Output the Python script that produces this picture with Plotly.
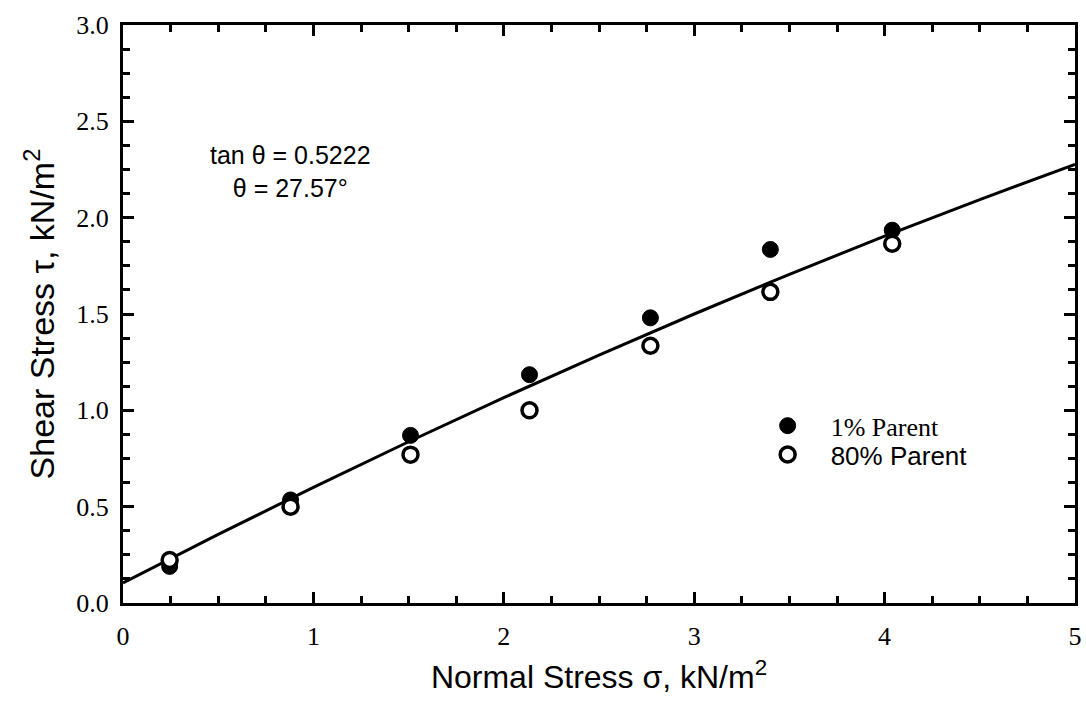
import plotly.graph_objects as go

# Data
sigma = [0.245, 0.88, 1.51, 2.135, 2.77, 3.40, 4.04]
tau_1pct = [0.19, 0.535, 0.87, 1.185, 1.48, 1.835, 1.935]
tau_80pct = [0.223, 0.50, 0.77, 1.00, 1.335, 1.615, 1.865]

# Fitted curve
fit_x = [0, 0.5, 1.0, 1.5, 2.0, 2.5, 3.0, 3.5, 4.0, 4.5, 5.0]
fit_y = [0.104, 0.356, 0.600, 0.837, 1.066, 1.287, 1.500, 1.706, 1.904, 2.094, 2.277]

x_ticks = [0, 1, 2, 3, 4, 5]
y_ticks = [0.0, 0.5, 1.0, 1.5, 2.0, 2.5, 3.0]

SERIF = "Liberation Serif, Times New Roman, serif"
SANS = "Liberation Sans, Arial, sans-serif"

fig = go.Figure()
fig.add_trace(go.Scatter(x=fit_x, y=fit_y, mode="lines",
                         line=dict(color="black", width=3), showlegend=False,
                         hoverinfo="skip"))
fig.add_trace(go.Scatter(x=sigma, y=tau_1pct, mode="markers", name="1% Parent",
                         marker=dict(symbol="circle", size=16, color="black",
                                     line=dict(color="black", width=1)),
                         legend="legend"))
fig.add_trace(go.Scatter(x=sigma, y=tau_80pct, mode="markers", name="80% Parent",
                         marker=dict(symbol="circle", size=15, color="white",
                                     line=dict(color="black", width=3.5)),
                         legend="legend2"))

fig.add_annotation(x=0.88, y=2.24, xref="x", yref="y",
                   text="tan θ = 0.5222<br>θ = 27.57°", showarrow=False,
                   align="center", font=dict(family=SANS, size=25, color="black"))

axis_common = dict(showline=True, linecolor="black", linewidth=3, mirror="ticks",
                   ticks="inside", tickcolor="black", tickwidth=2.5, ticklen=11,
                   showgrid=False, zeroline=False,
                   tickfont=dict(family=SERIF, size=26, color="black"))

fig.update_xaxes(range=[0, 5], tickvals=x_ticks, ticktext=[str(v) for v in x_ticks],
                 minor=dict(dtick=0.25, ticks="inside", ticklen=7, tickwidth=2.5,
                            tickcolor="black", showgrid=False),
                 ticklabelstandoff=8,
                 title=dict(text="Normal Stress σ, kN/m<sup>2</sup>",
                            font=dict(family=SANS, size=32, color="black"),
                            standoff=16),
                 **axis_common)
fig.update_yaxes(range=[0, 3], tickvals=y_ticks, ticktext=[f"{v:.1f}" for v in y_ticks],
                 minor=dict(dtick=0.125, ticks="inside", ticklen=7, tickwidth=2.5,
                            tickcolor="black", showgrid=False),
                 ticklabelstandoff=6,
                 title=dict(text="Shear Stress τ, kN/m<sup>2</sup>",
                            font=dict(family=SANS, size=34, color="black"),
                            standoff=12),
                 **axis_common)

fig.update_layout(
    width=1086, height=708,
    margin=dict(l=123, r=4, t=25, b=105),
    paper_bgcolor="white", plot_bgcolor="white",
    legend=dict(x=0.653, y=0.92 / 3.0, xanchor="left", yanchor="middle",
                bgcolor="rgba(0,0,0,0)", font=dict(family=SERIF, size=26, color="black"),
                itemwidth=76, tracegroupgap=0),
    legend2=dict(x=0.653, y=0.77 / 3.0, xanchor="left", yanchor="middle",
                 bgcolor="rgba(0,0,0,0)", font=dict(family=SANS, size=26, color="black"),
                 itemwidth=76, tracegroupgap=0),
)

fig.write_html("out.html")
